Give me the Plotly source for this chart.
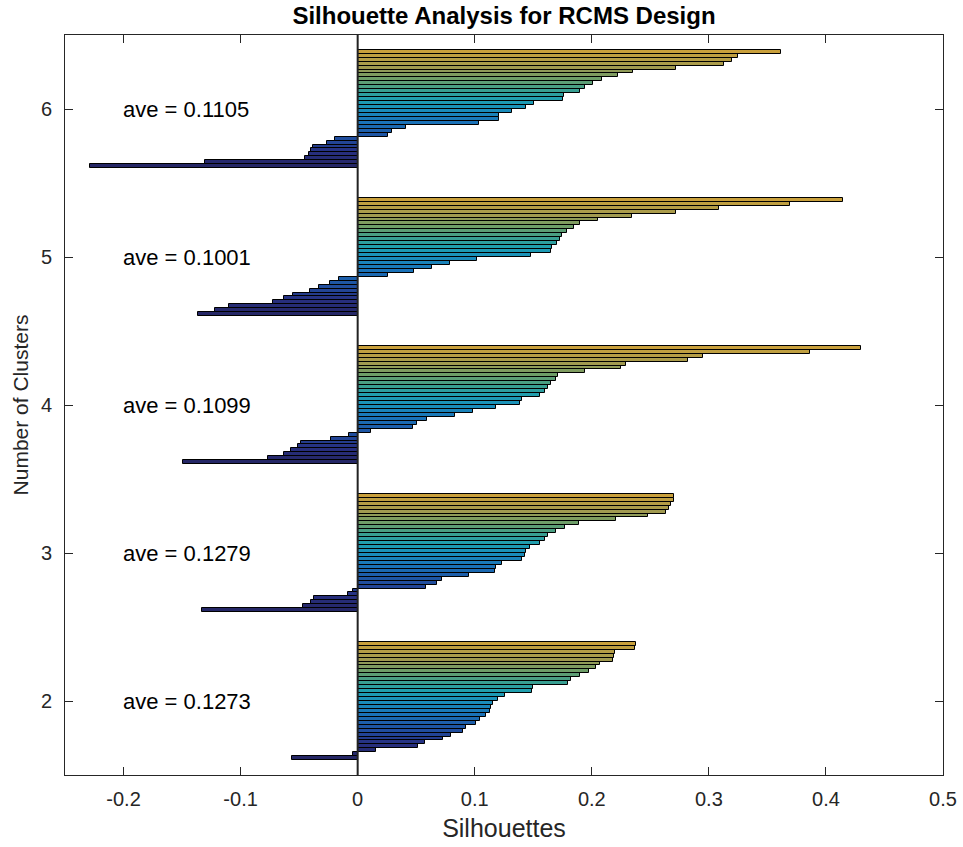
import plotly.graph_objects as go

# Silhouette values per clustering solution (sorted ascending, 30 samples each)
k_values = [2, 3, 4, 5, 6]

sil_k2 = [-0.0558, -0.0037, 0.016, 0.0515, 0.0575, 0.0729, 0.0794, 0.0902, 0.0928, 0.1008,
          0.1045, 0.110, 0.113, 0.114, 0.116, 0.120, 0.126, 0.149, 0.150, 0.180,
          0.182, 0.190, 0.198, 0.204, 0.207, 0.218, 0.219, 0.220, 0.237, 0.238]

sil_k3 = [-0.133, -0.047, -0.040, -0.037, -0.008, -0.004, 0.0587, 0.068, 0.0717, 0.095,
          0.117, 0.118, 0.123, 0.1406, 0.1426, 0.1435, 0.147, 0.1554, 0.160, 0.163,
          0.169, 0.177, 0.189, 0.221, 0.248, 0.263, 0.266, 0.268, 0.270, 0.270]

sil_k4 = [-0.149, -0.077, -0.063, -0.057, -0.0512, -0.0487, -0.023, -0.0077, 0.011, 0.0475,
          0.0504, 0.0595, 0.083, 0.0988, 0.118, 0.139, 0.1406, 0.1554, 0.160, 0.163,
          0.165, 0.169, 0.171, 0.194, 0.225, 0.229, 0.282, 0.295, 0.386, 0.430]

sil_k5 = [-0.136, -0.122, -0.110, -0.072, -0.063, -0.055, -0.041, -0.033, -0.024, -0.016,
          0.026, 0.048, 0.0638, 0.079, 0.102, 0.148, 0.165, 0.166, 0.1705, 0.173,
          0.1748, 0.179, 0.185, 0.190, 0.205, 0.234, 0.272, 0.309, 0.369, 0.415]

sil_k6 = [-0.2286, -0.130, -0.045, -0.0415, -0.040, -0.038, -0.026, -0.0196, 0.026, 0.0296,
          0.041, 0.1035, 0.121, 0.121, 0.132, 0.1435, 0.151, 0.175, 0.176, 0.190,
          0.194, 0.2007, 0.209, 0.222, 0.235, 0.2716, 0.313, 0.320, 0.3245, 0.362]

averages = ["0.1273", "0.1279", "0.1099", "0.1001", "0.1105"]

groups = [sil_k2, sil_k3, sil_k4, sil_k5, sil_k6]

# parula-like ramp, dark indigo at the bottom of each stack to gold at the top
bar_scale = [
    [0.00, "#252766"],
    [0.12, "#272f80"],
    [0.25, "#1f4f9f"],
    [0.38, "#1a72b8"],
    [0.50, "#1a90bc"],
    [0.58, "#1f9fb0"],
    [0.66, "#3a9f90"],
    [0.75, "#6a9e6a"],
    [0.86, "#a09a50"],
    [1.00, "#c9a03c"],
]

FONT = "Liberation Sans, Arial, Helvetica, sans-serif"
TXT = "#262626"

fig = go.Figure()

span = 0.8
for k, vals in zip(k_values, groups):
    n = len(vals)
    h = span / n
    ys = [k - span / 2 + (i + 0.5) * h for i in range(n)]
    fig.add_trace(go.Bar(
        x=vals,
        y=ys,
        orientation="h",
        width=[h] * n,
        marker=dict(
            color=list(range(n)),
            colorscale=bar_scale,
            cmin=0,
            cmax=n - 1,
            line=dict(color="black", width=1),
        ),
        showlegend=False,
        hoverinfo="x",
    ))

for k, ave in zip(k_values, averages):
    fig.add_annotation(
        x=-0.2025, y=k, text=f"ave = {ave}", showarrow=False,
        xanchor="left", yanchor="middle",
        font=dict(family=FONT, size=22, color="black"),
    )

# zero reference line
fig.add_shape(type="line", x0=0, x1=0, y0=0, y1=1, xref="x", yref="paper",
              line=dict(color="#222222", width=2))

axis_font = dict(family=FONT, size=20, color=TXT)

fig.update_layout(
    width=963,
    height=847,
    margin=dict(l=65, r=20, t=35, b=72, autoexpand=False),
    paper_bgcolor="white",
    plot_bgcolor="white",
    bargap=0,
    barmode="overlay",
    title=dict(
        text="<b>Silhouette Analysis for RCMS Design</b>",
        x=(65 + 943) / 2 / 963, xanchor="center",
        y=1 - 16 / 847, yanchor="middle",
        font=dict(family=FONT, size=24, color="black"),
    ),
    xaxis=dict(
        range=[-0.25, 0.5],
        tickvals=[-0.2, -0.1, 0, 0.1, 0.2, 0.3, 0.4, 0.5],
        ticktext=["-0.2", "-0.1", "0", "0.1", "0.2", "0.3", "0.4", "0.5"],
        ticks="inside", ticklen=8, tickwidth=1, tickcolor=TXT,
        showline=True, linecolor=TXT, linewidth=1, mirror="allticks",
        showgrid=False, zeroline=False, automargin=False,
        tickfont=axis_font, ticklabelstandoff=6,
        title=dict(text="Silhouettes", font=dict(family=FONT, size=25, color=TXT), standoff=10),
    ),
    yaxis=dict(
        range=[1.5, 6.5],
        tickvals=k_values,
        ticks="inside", ticklen=8, tickwidth=1, tickcolor=TXT,
        showline=True, linecolor=TXT, linewidth=1, mirror="allticks",
        showgrid=False, zeroline=False, automargin=False,
        tickfont=axis_font, ticklabelstandoff=8,
        title=dict(text="Number of Clusters", font=dict(family=FONT, size=21, color=TXT), standoff=6),
    ),
)

fig.write_html("out.html")
